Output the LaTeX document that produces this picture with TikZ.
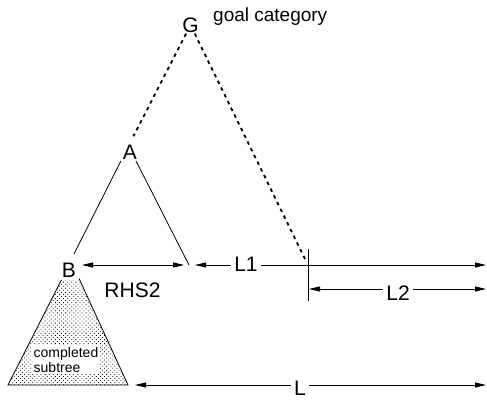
\documentclass[tikz,border=0pt]{standalone}
\usepackage{fontspec}
\setmainfont{Liberation Sans}
\usetikzlibrary{arrows.meta,patterns.meta}
\begin{document}
\begin{tikzpicture}[x=1pt,y=-1pt,
  lbl/.style={font=\fontsize{21}{25}\selectfont, inner sep=1pt},
  dimboth/.style={line width=0.8pt, {Triangle[length=11pt,width=5pt]}-{Triangle[length=11pt,width=5pt]}},
  dashline/.style={line width=1.8pt, dash pattern=on 3.5pt off 4pt},
  solidline/.style={line width=0.8pt},
  onlinelbl/.style={lbl, fill=white, inner xsep=3pt, inner ysep=0pt}]
\useasboundingbox (0,0) rectangle (487,399);

% completed subtree
\draw[solidline, pattern={Dots[distance=2.9pt,radius=0.55pt,angle=45]}, pattern color=black]
  (71,261) -- (8,385) -- (128,385) -- cycle;

% nodes
\node[lbl] (G) at (190.5,25) {G};
\node[font=\fontsize{19}{23}\selectfont, anchor=base west, inner sep=0pt] (goal) at (213,21) {goal category};
\node[lbl] (A) at (130,152) {A};
\node[lbl, fill=white, inner sep=3pt] (B) at (69,270) {B};
\node[fill=white, inner sep=1.5pt, align=left, font=\fontsize{14}{15}\selectfont] (cs) at (66,359.5) {completed\\subtree};
\node[lbl] (rhs) at (132.5,290.5) {RHS2};

% coordinates
\coordinate (Aj) at (128.4,146);
\coordinate (Bt) at (74,254);
\coordinate (Ar) at (189,265);
\coordinate (gEnd) at (306,261);
\coordinate (tickT) at (308,249);
\coordinate (tickB) at (308,301);
\coordinate (b1) at (82,265);
\coordinate (r1) at (184,265);
\coordinate (l1a) at (195,265);
\coordinate (e1) at (486,265);
\coordinate (l2a) at (309,289);
\coordinate (e2) at (486,289);
\coordinate (la) at (135,385);
\coordinate (e3) at (486,385);

% dashed links from G
\draw[dashline, shorten >=11pt] (G) -- (Aj);
\draw[dashline] (G) -- (gEnd);

% solid links from A
\draw[solidline, shorten <=16.7pt] (Aj) -- (Bt);
\draw[solidline, shorten <=16.8pt] (Aj) -- (Ar);

% tick
\draw[solidline] (tickT) -- (tickB);

% dimension arrows
\draw[dimboth] (b1) -- (r1);
\draw[dimboth] (l1a) -- (e1);
\node[onlinelbl] (L1) at (246,264) {L1};
\draw[dimboth] (l2a) -- (e2);
\node[onlinelbl] (L2) at (398,293) {L2};
\draw[dimboth] (la) -- (e3);
\node[onlinelbl] (L) at (300,388.5) {L};
\end{tikzpicture}
\end{document}
